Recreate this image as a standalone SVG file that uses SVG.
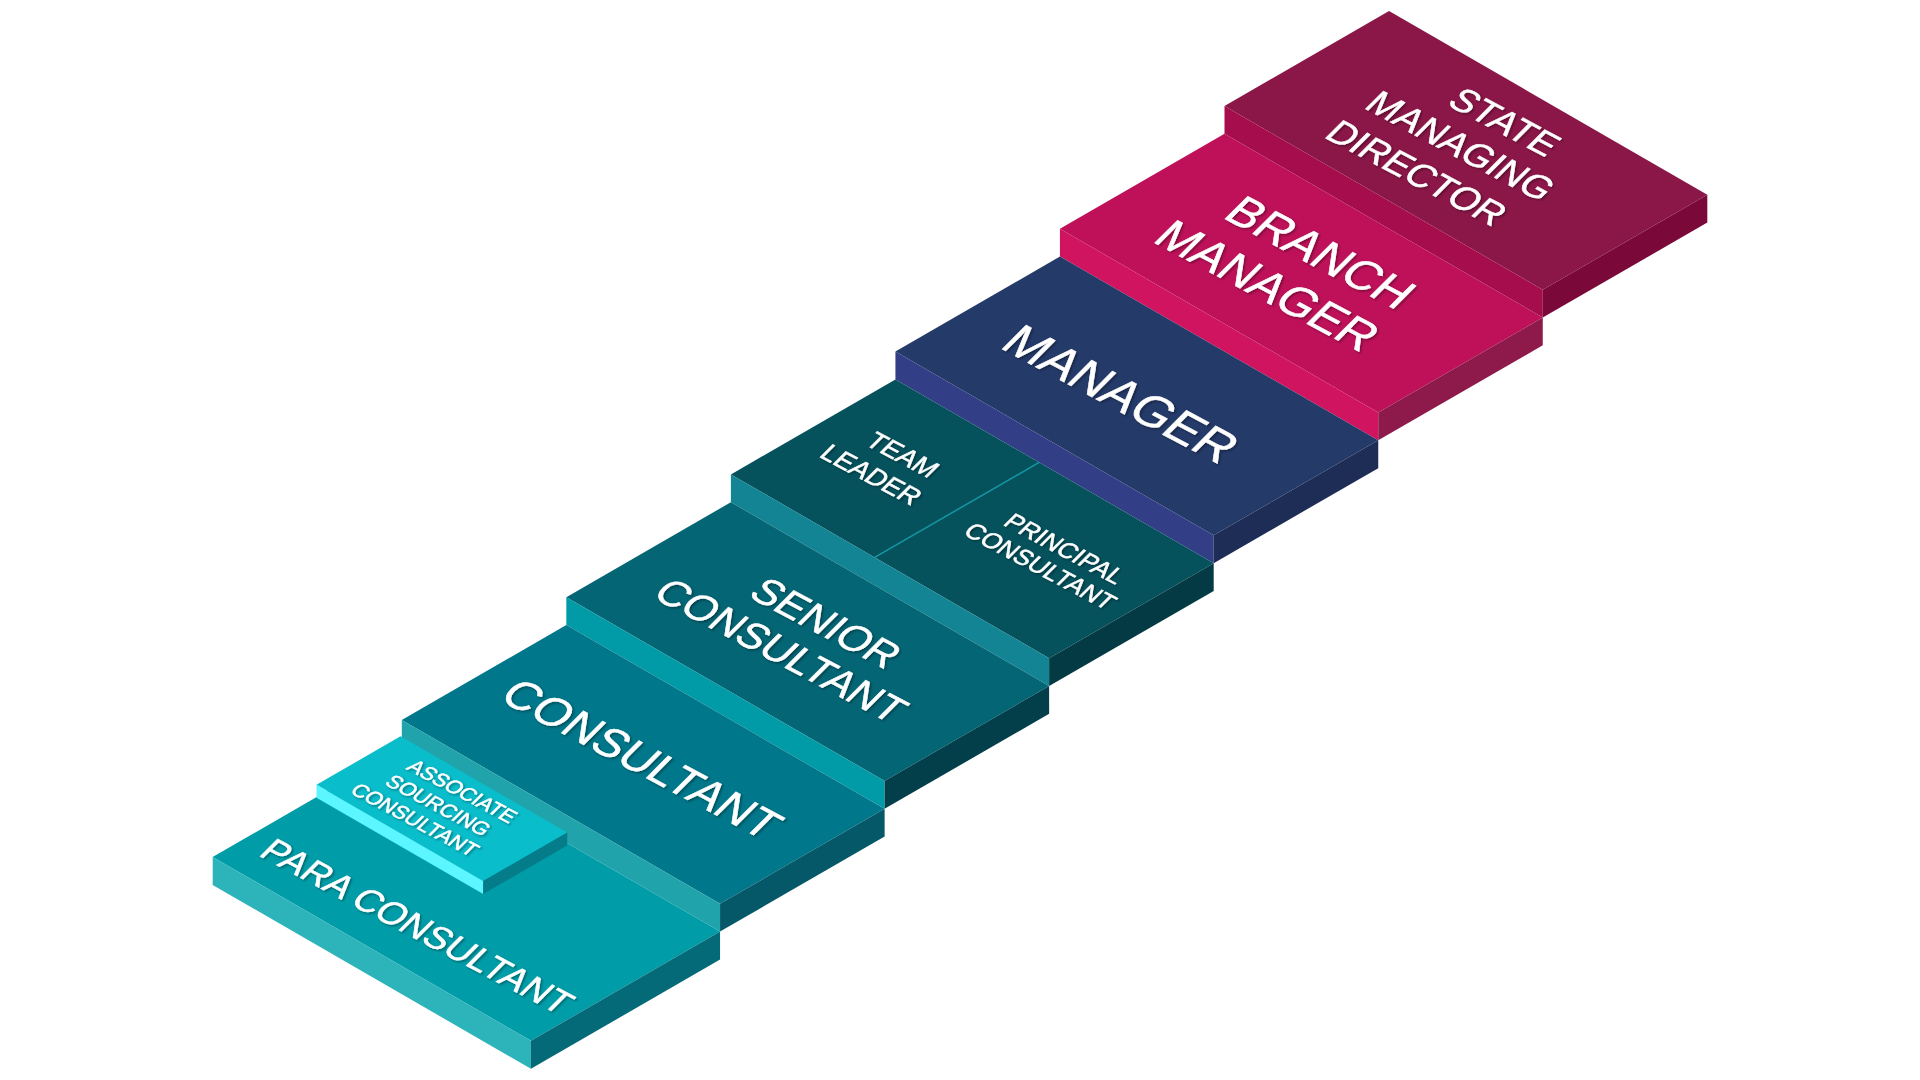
<svg xmlns="http://www.w3.org/2000/svg" width="1920" height="1080" viewBox="0 0 1920 1080">
  <defs>
    <filter id="ts" x="-10%" y="-10%" width="120%" height="120%">
      <feDropShadow dx="1.5" dy="1.5" stdDeviation="1.2" flood-color="#000" flood-opacity="0.35"/>
    </filter>
  </defs>
  <style>
    text { font-family: "Liberation Sans", Arial, sans-serif; fill: #ffffff; stroke: #ffffff; stroke-width: 0.5; text-anchor: middle; }
    .lbl { filter: url(#ts); }
  </style>
  <rect width="1920" height="1080" fill="#ffffff"/>

  <!-- State Managing Director -->
  <g id="state-managing-director">
    <polygon points="1224.5,106 1389.04,11 1707.3,194.75 1542.76,289.75" fill="#8B1748"/>
    <polygon points="1224.5,106 1542.76,289.75 1542.76,317.55 1224.5,133.8" fill="#A50D4D"/>
    <polygon points="1542.76,289.75 1707.3,194.75 1707.3,222.55 1542.76,317.55" fill="#7A0839"/>
    <g class="lbl" font-size="37">
      <text transform="matrix(0.883 0.469 -0.707 0.707 1505 121.5)" y="13.2">STATE</text>
      <text transform="matrix(0.883 0.469 -0.707 0.707 1461 145.5)" y="13.2">MANAGING</text>
      <text transform="matrix(0.883 0.469 -0.707 0.707 1417 172.5)" y="13.2">DIRECTOR</text>
    </g>
  </g>

  <!-- Branch Manager -->
  <g id="branch-manager">
    <polygon points="1059.96,228.8 1224.5,133.8 1542.76,317.55 1378.22,412.55" fill="#BE1159"/>
    <polygon points="1059.96,228.8 1378.22,412.55 1378.22,440.35 1059.96,256.6" fill="#D0145F"/>
    <polygon points="1378.22,412.55 1542.76,317.55 1542.76,345.35 1378.22,440.35" fill="#8D1A4A"/>
    <g class="lbl" font-size="47">
      <text transform="matrix(0.883 0.469 -0.707 0.707 1321 252)" y="16.8">BRANCH</text>
      <text transform="matrix(0.883 0.469 -0.707 0.707 1268 285)" y="16.8">MANAGER</text>
    </g>
  </g>

  <!-- Manager -->
  <g id="manager">
    <polygon points="895.42,351.6 1059.96,256.6 1378.22,440.35 1213.68,535.35" fill="#243A69"/>
    <polygon points="895.42,351.6 1213.68,535.35 1213.68,563.15 895.42,379.4" fill="#323E85"/>
    <polygon points="1213.68,535.35 1378.22,440.35 1378.22,468.15 1213.68,563.15" fill="#1E2D55"/>
    <g class="lbl" font-size="49.5">
      <text transform="matrix(0.883 0.469 -0.707 0.707 1121.5 393.5)" y="17.7">MANAGER</text>
    </g>
  </g>

  <!-- Team Leader / Principal Consultant -->
  <g id="team-leader-principal-consultant">
    <polygon points="730.88,474.4 895.42,379.4 1213.68,563.15 1049.14,658.15" fill="#05525D"/>
    <polygon points="730.88,474.4 1049.14,658.15 1049.14,685.95 730.88,502.2" fill="#128494"/>
    <polygon points="1049.14,658.15 1213.68,563.15 1213.68,590.95 1049.14,685.95" fill="#043A44"/>
    <line x1="874.64" y1="557.4" x2="1039.18" y2="462.4" stroke="#1597A4" stroke-width="1.5"/>
    <g id="team-leader" class="lbl" font-size="26.5">
      <text transform="matrix(0.883 0.469 -0.707 0.707 903 454.5)" y="9.5">TEAM</text>
      <text transform="matrix(0.883 0.469 -0.707 0.707 871.5 474.5)" y="9.5">LEADER</text>
    </g>
    <g id="principal-consultant" class="lbl" font-size="24.7">
      <text transform="matrix(0.883 0.469 -0.707 0.707 1065 548.5)" y="8.8">PRINCIPAL</text>
      <text transform="matrix(0.883 0.469 -0.707 0.707 1040.5 566)" y="8.8">CONSULTANT</text>
    </g>
  </g>

  <!-- Senior Consultant -->
  <g id="senior-consultant">
    <polygon points="566.34,597.2 730.88,502.2 1049.14,685.95 884.6,780.95" fill="#046575"/>
    <polygon points="566.34,597.2 884.6,780.95 884.6,808.75 566.34,625" fill="#009BA6"/>
    <polygon points="884.6,780.95 1049.14,685.95 1049.14,713.75 884.6,808.75" fill="#023F4A"/>
    <g class="lbl" font-size="41">
      <text transform="matrix(0.883 0.469 -0.707 0.707 826.5 622.5)" y="14.7">SENIOR</text>
      <text transform="matrix(0.883 0.469 -0.707 0.707 781.5 650)" y="14.7">CONSULTANT</text>
    </g>
  </g>

  <!-- Consultant -->
  <g id="consultant">
    <polygon points="401.8,720 566.34,625 884.6,808.75 720.06,903.75" fill="#00778A"/>
    <polygon points="401.8,720 720.06,903.75 720.06,931.55 401.8,747.8" fill="#20A3AB"/>
    <polygon points="720.06,903.75 884.6,808.75 884.6,836.55 720.06,931.55" fill="#045868"/>
    <g class="lbl" font-size="45.5">
      <text transform="matrix(0.883 0.469 -0.707 0.707 642.5 758.5)" y="16.3">CONSULTANT</text>
    </g>
  </g>

  <!-- Para Consultant -->
  <g id="para-consultant">
    <polygon points="212.67,857 401.8,747.8 720.06,931.55 530.93,1040.75" fill="#009DA8"/>
    <polygon points="212.67,857 530.93,1040.75 530.93,1068.75 212.67,885" fill="#2DB3BA"/>
    <polygon points="530.93,1040.75 720.06,931.55 720.06,959.55 530.93,1068.75" fill="#056A78"/>
    <g class="lbl" font-size="36">
      <text transform="matrix(0.883 0.469 -0.707 0.707 417.5 926)" y="12.9">PARA CONSULTANT</text>
    </g>
  </g>

  <!-- Associate Sourcing Consultant -->
  <g id="associate-sourcing-consultant">
    <polygon points="316.5,784.8 400.5,736.3 567.2,832.55 483.2,881.05" fill="#0ABDCB"/>
    <polygon points="316.5,784.8 483.2,881.05 483.2,894.05 316.5,797.8" fill="#5BF6FF"/>
    <polygon points="483.2,881.05 567.2,832.55 567.2,845.55 483.2,894.05" fill="#057C8A"/>
    <g class="lbl" font-size="20.8">
      <text transform="matrix(0.883 0.469 -0.707 0.707 462.5 791)" y="7.4">ASSOCIATE</text>
      <text transform="matrix(0.883 0.469 -0.707 0.707 438.5 805)" y="7.4">SOURCING</text>
      <text transform="matrix(0.883 0.469 -0.707 0.707 415 819.5)" y="7.4">CONSULTANT</text>
    </g>
  </g>

  <g id="connectors"></g>
</svg>
